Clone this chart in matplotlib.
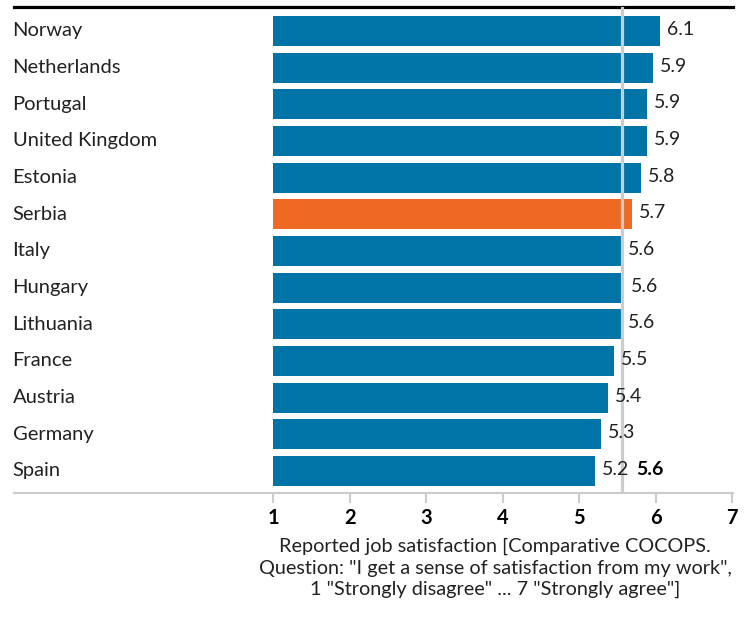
import matplotlib.pyplot as plt
import matplotlib.transforms as mtransforms

countries = ['Norway', 'Netherlands', 'Portugal', 'United Kingdom', 'Estonia', 'Serbia',
             'Italy', 'Hungary', 'Lithuania', 'France', 'Austria', 'Germany', 'Spain']
scores = [6.06, 5.97, 5.88, 5.88, 5.81, 5.69, 5.55, 5.58, 5.54, 5.46, 5.38, 5.29, 5.21]
labels = ['6.1', '5.9', '5.9', '5.9', '5.8', '5.7', '5.6', '5.6', '5.6', '5.5', '5.4', '5.3', '5.2']
highlight = 'Serbia'
average = 5.56
average_label = '5.6'
ticks = [1, 2, 3, 4, 5, 6, 7]
axis_title = ('Reported job satisfaction [Comparative COCOPS.\n'
              'Question: "I get a sense of satisfaction from my work",\n'
              '1 "Strongly disagree" ... 7 "Strongly agree"]')

blue = '#0073a7'
orange = '#ee6a24'
grey = '#cccccc'
txt = '#222222'

plt.rcParams['font.family'] = ['Lato', 'DejaVu Sans']

fig = plt.figure(figsize=(7.47, 6.18), dpi=100)
ax = fig.add_axes([14 / 747, 125 / 618, 719 / 747, 486 / 618])

ypos = list(range(len(countries)))
colors = [orange if c == highlight else blue for c in countries]
ax.barh(ypos, [s - 1 for s in scores], left=1, height=0.82, color=colors, zorder=2)

ax.axvline(average, color=grey, lw=2.3, zorder=3)

for y, s, lab in zip(ypos, scores, labels):
    ax.annotate(lab, (s, y), xytext=(5, 1), textcoords='offset points',
                va='center', ha='left', fontsize=14, color=txt, zorder=4)

ax.annotate(average_label, (average, ypos[-1]), xytext=(10, 1), textcoords='offset points',
            va='center', ha='left', fontsize=14, fontweight='bold', color='black', zorder=4)

trans = mtransforms.blended_transform_factory(ax.transAxes, ax.transData)
for y, c in zip(ypos, countries):
    ax.text(-0.002, y, c, transform=trans, va='center', ha='left', fontsize=14.5, color=txt)

ax.set_xlim(-2.386, 7.01)
ax.set_ylim(12.6, -0.654)

ax.set_xticks(ticks)
ax.set_xticklabels([str(t) for t in ticks], fontsize=14.5, fontweight='bold', color='black')
ax.tick_params(axis='x', direction='out', length=7, width=1.5, color=grey, pad=4)
ax.set_yticks([])

for side in ['left', 'right']:
    ax.spines[side].set_visible(False)
ax.spines['top'].set_color('black')
ax.spines['top'].set_linewidth(2.3)
ax.spines['bottom'].set_color(grey)
ax.spines['bottom'].set_linewidth(1.5)

fig.text(495 / 747, 1 - 538 / 618, axis_title, ha='center', va='top', fontsize=14.3,
         color=txt, linespacing=1.3)

fig.savefig('out.png', dpi=100)
